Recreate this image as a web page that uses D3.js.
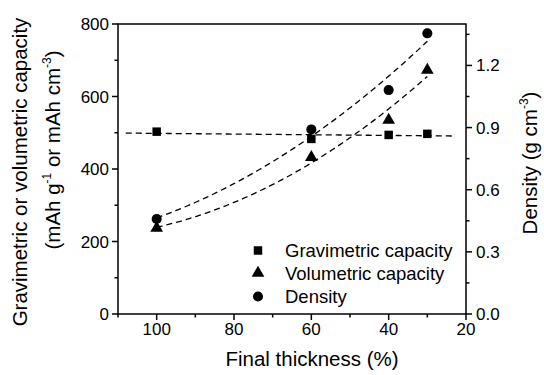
<!DOCTYPE html>
<html><head><meta charset="utf-8">
<script src="https://cdn.jsdelivr.net/npm/d3@7"></script>
<style>
body{margin:0;background:#fff;}
svg{display:block;font-family:"Liberation Sans",Arial,sans-serif;}
</style></head><body>
<svg id="c" width="544" height="375"></svg>
<script>
const thickness = [100, 60, 40, 30];
const gravimetric = [503, 483, 494, 497];
const volumetric = [237, 432, 535, 673];
const density = [0.459, 0.891, 1.081, 1.355];
const xTicks = [100, 80, 60, 40, 20];
const xMinor = [110, 90, 70, 50, 30];
const yLTicks = [0, 200, 400, 600, 800];
const yLMinor = [100, 300, 500, 700];
const yRTicks = [0, 0.3, 0.6, 0.9, 1.2];
const yRMinor = [0.15, 0.45, 0.75, 1.05, 1.35];
const legendItems = ["Gravimetric capacity", "Volumetric capacity", "Density"];

const svg = d3.select("#c");
const L = 118, R = 466, T = 24, B = 314;
const x = d3.scaleLinear().domain([110, 20]).range([L, R]);
const yL = d3.scaleLinear().domain([0, 800]).range([B, T]);
const yR = d3.scaleLinear().domain([0, 1.4]).range([B, T]);

// least squares polynomial fit
function polyfit(xs, ys, deg) {
  const n = deg + 1;
  const A = Array.from({length: n}, () => new Array(n + 1).fill(0));
  for (let r = 0; r < n; r++) {
    for (let c = 0; c < n; c++) A[r][c] = d3.sum(xs, v => Math.pow(v, r + c));
    A[r][n] = d3.sum(xs, (v, i) => Math.pow(v, r) * ys[i]);
  }
  for (let i = 0; i < n; i++) {
    let p = i;
    for (let k = i + 1; k < n; k++) if (Math.abs(A[k][i]) > Math.abs(A[p][i])) p = k;
    [A[i], A[p]] = [A[p], A[i]];
    for (let k = i + 1; k < n; k++) {
      const f = A[k][i] / A[i][i];
      for (let j = i; j <= n; j++) A[k][j] -= f * A[i][j];
    }
  }
  const c = new Array(n).fill(0);
  for (let i = n - 1; i >= 0; i--) {
    let s = A[i][n];
    for (let j = i + 1; j < n; j++) s -= A[i][j] * c[j];
    c[i] = s / A[i][i];
  }
  return v => c.reduce((acc, ci, i) => acc + ci * Math.pow(v, i), 0);
}

const fG = polyfit(thickness, gravimetric, 1);
const fV = polyfit(thickness, volumetric, 2);
const fD = polyfit(thickness, density, 2);

const line = d3.line().x(d => d[0]).y(d => d[1]);
function fitPath(f, ys, x0, x1) {
  const pts = d3.range(0, 101).map(i => {
    const t = x0 + (x1 - x0) * i / 100;
    return [x(t), ys(f(t))];
  });
  svg.append("path").attr("d", line(pts)).attr("fill", "none")
    .attr("stroke", "#000").attr("stroke-width", 1.3).attr("stroke-dasharray", "6,4");
}
fitPath(fG, yL, 108, 23);
fitPath(fV, yL, 100, 30);
fitPath(fD, yR, 100, 30);

// axes
const ax = svg.append("g").attr("stroke", "#000").attr("stroke-width", 1.5);
ax.append("rect").attr("x", L).attr("y", T).attr("width", R - L).attr("height", B - T).attr("fill", "none");
xTicks.forEach(t => ax.append("line").attr("x1", x(t)).attr("x2", x(t)).attr("y1", B).attr("y2", B + 6));
xMinor.forEach(t => ax.append("line").attr("x1", x(t)).attr("x2", x(t)).attr("y1", B).attr("y2", B + 3.5));
yLTicks.forEach(t => ax.append("line").attr("x1", L).attr("x2", L - 6).attr("y1", yL(t)).attr("y2", yL(t)));
yLMinor.forEach(t => ax.append("line").attr("x1", L).attr("x2", L - 3.5).attr("y1", yL(t)).attr("y2", yL(t)));
yRTicks.forEach(t => ax.append("line").attr("x1", R).attr("x2", R + 6).attr("y1", yR(t)).attr("y2", yR(t)));
yRMinor.forEach(t => ax.append("line").attr("x1", R).attr("x2", R + 3.5).attr("y1", yR(t)).attr("y2", yR(t)));

const tf = 17;
svg.selectAll(".xt").data(xTicks).enter().append("text")
  .attr("x", d => x(d)).attr("y", 334.5).attr("text-anchor", "middle")
  .attr("font-size", tf).text(d => d);
svg.selectAll(".ylt").data(yLTicks).enter().append("text")
  .attr("x", 109).attr("y", d => yL(d) + 6).attr("text-anchor", "end")
  .attr("font-size", tf).text(d => d);
svg.selectAll(".yrt").data(yRTicks).enter().append("text")
  .attr("x", 476).attr("y", d => yR(d) + 6).attr("text-anchor", "start")
  .attr("font-size", tf).text(d => d.toFixed(1));

// titles
svg.append("text").attr("x", 312).attr("y", 366).attr("text-anchor", "middle")
  .attr("font-size", 20.5).text("Final thickness (%)");
svg.append("text").attr("transform", "translate(27,172) rotate(-90)").attr("text-anchor", "middle")
  .attr("font-size", 20.5).text("Gravimetric or volumetric capacity");
const t2 = svg.append("text").attr("transform", "translate(60,150) rotate(-90)").attr("text-anchor", "middle")
  .attr("font-size", 20.5);
t2.append("tspan").text("(mAh g");
t2.append("tspan").attr("font-size", 12).attr("dy", -9).text("-1");
t2.append("tspan").attr("dy", 9).text(" or mAh cm");
t2.append("tspan").attr("font-size", 12).attr("dy", -9).text("-3");
t2.append("tspan").attr("dy", 9).text(")");
const t3 = svg.append("text").attr("transform", "translate(537,163) rotate(-90)").attr("text-anchor", "middle")
  .attr("font-size", 20.5);
t3.append("tspan").text("Density (g cm");
t3.append("tspan").attr("font-size", 12).attr("dy", -9).text("-3");
t3.append("tspan").attr("dy", 9).text(")");

// markers
const sq = d3.symbol().type(d3.symbolSquare).size(72);
const tri = d3.symbol().type(d3.symbolTriangle).size(70);
const cir = d3.symbol().type(d3.symbolCircle).size(80);
function marks(vals, ys, sym) {
  svg.append("g").selectAll("path").data(vals).enter().append("path")
    .attr("d", sym).attr("fill", "#000")
    .attr("transform", (d, i) => `translate(${x(thickness[i])},${ys(d)})`);
}
marks(gravimetric, yL, sq);
marks(volumetric, yL, tri);
marks(density, yR, cir);

// legend
const legSyms = [sq, tri, cir];
const legY = [250.5, 273, 296.5];
legendItems.forEach((name, i) => {
  svg.append("path").attr("d", legSyms[i]).attr("fill", "#000")
    .attr("transform", `translate(258,${legY[i]})`);
  svg.append("text").attr("x", 285).attr("y", legY[i] + 6.5).attr("font-size", 18.5).text(name);
});
</script>
</body></html>
